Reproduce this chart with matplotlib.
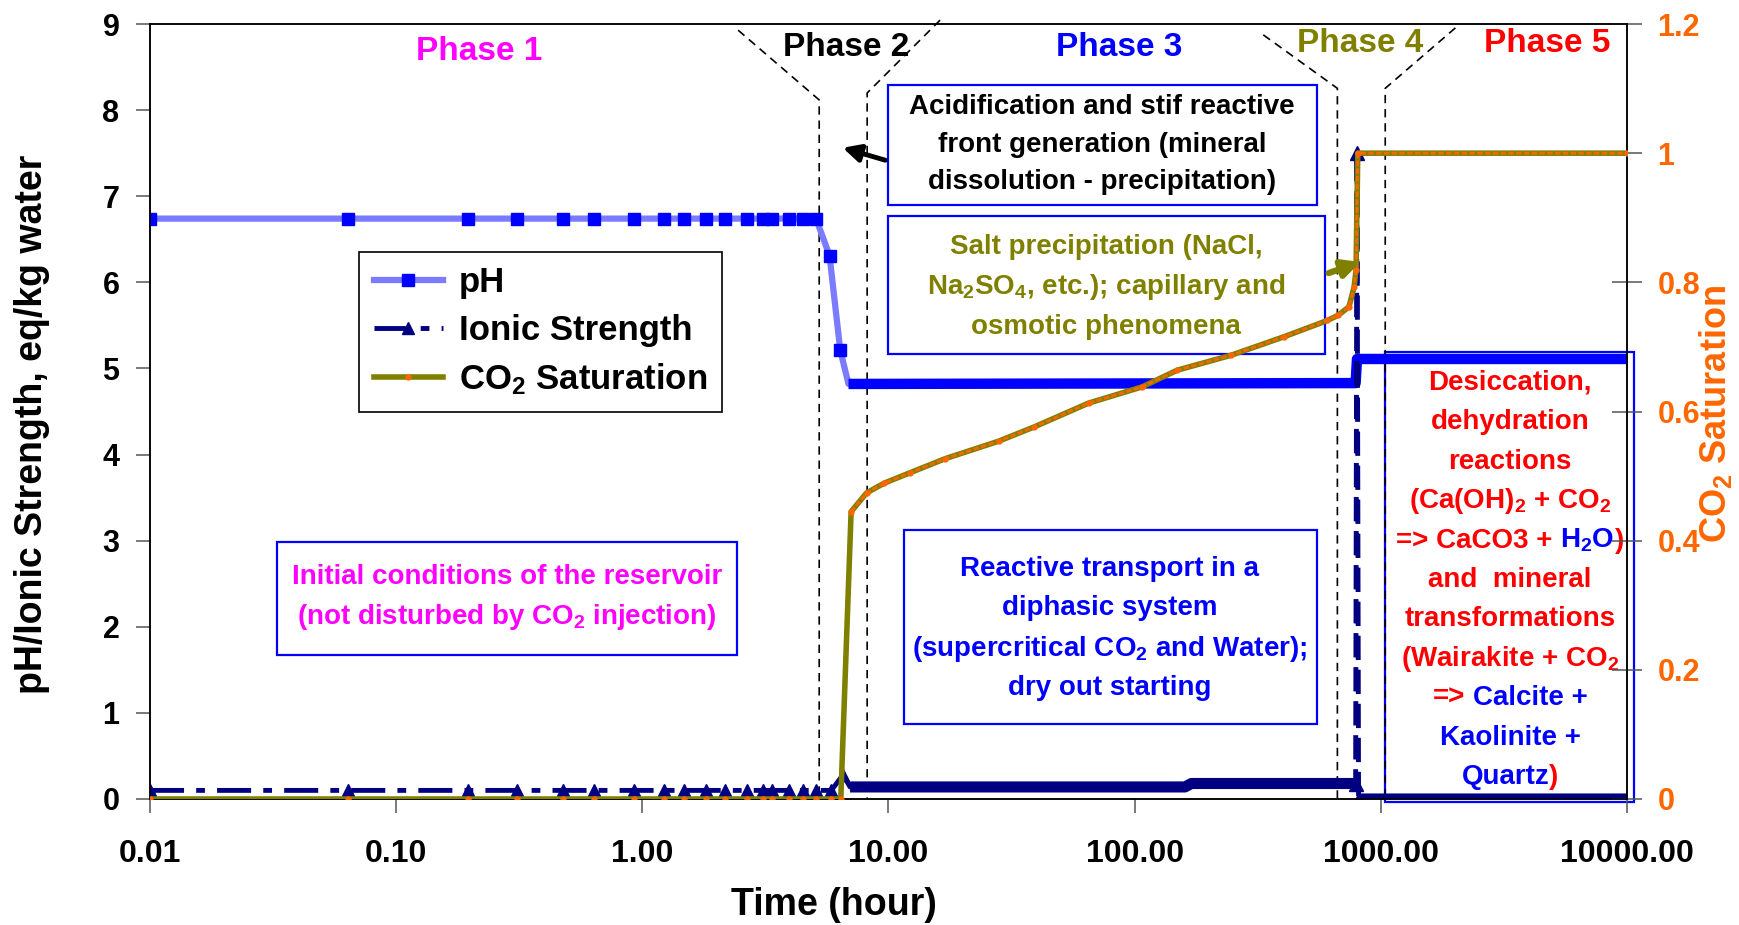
import numpy as np
import matplotlib
matplotlib.use("Agg")
import matplotlib.pyplot as plt
from matplotlib.patches import Rectangle
from matplotlib.ticker import NullLocator

plt.rcParams['font.family'] = ['Liberation Sans', 'DejaVu Sans']
plt.rcParams['font.weight'] = 'bold'
plt.rcParams['mathtext.default'] = 'regular'

# --- data (time in hours) ---
t_early = [0.01, 0.064, 0.196, 0.309, 0.475, 0.638, 0.929, 1.23, 1.47,
           1.82, 2.16, 2.65, 3.08, 3.37, 3.96, 4.48, 5.08]

ph_t = t_early + [5.76, 6.37, 6.88, 790, 800, 10000]
ph_v = [6.74] * len(t_early) + [6.31, 5.21, 4.82, 4.83, 5.11, 5.11]

ionic_t = t_early + [5.86, 6.53, 6.98, 160, 170, 790, 800, 812, 10000]
ionic_v = [0.1] * len(t_early) + [0.1, 0.28, 0.14, 0.14, 0.18, 0.18, 7.5, 0.0, 0.0]

co2_t = t_early + [5.86, 6.4, 7.05, 8.15, 9.6, 12.2, 17, 28, 39, 65, 107, 149,
                   246, 406, 607, 671, 742, 779, 793, 806, 10000]
co2_v = [0.0] * len(t_early) + [0.0, 0.0, 0.445, 0.474, 0.489, 0.505, 0.527, 0.554,
                                0.576, 0.613, 0.638, 0.664, 0.687, 0.716, 0.741,
                                0.749, 0.762, 0.793, 0.819, 1.0, 1.0]

xticks = [0.01, 0.1, 1, 10, 100, 1000, 10000]
xtick_labels = ["0.01", "0.10", "1.00", "10.00", "100.00", "1000.00", "10000.00"]
yticks_right = [0, 0.2, 0.4, 0.6, 0.8, 1.0, 1.2]
ytick_right_labels = ["0", "0.2", "0.4", "0.6", "0.8", "1", "1.2"]

PH_LIGHT = '#7b7bff'
BLUE = '#0000ff'
NAVY = '#000080'
OLIVE = '#808000'
ORANGE = '#ff6600'
MAGENTA = '#ff00ff'
RED = '#ff0000'

W, H = 1740, 925
AX_L, AX_R, AX_T, AX_B = 150, 1627, 24, 799


def px(X, Y):
    # pixel position -> axes fraction
    return (X - AX_L) / (AX_R - AX_L), (AX_B - Y) / (AX_B - AX_T)


fig = plt.figure(figsize=(W / 100, H / 100), dpi=100)
ax = fig.add_axes([AX_L / W, 1 - AX_B / H, (AX_R - AX_L) / W, (AX_B - AX_T) / H])
ax2 = ax.twinx()

ph_t, ph_v = np.array(ph_t), np.array(ph_v)
ionic_t, ionic_v = np.array(ionic_t), np.array(ionic_v)
co2_t, co2_v = np.array(co2_t), np.array(co2_v)

# pH
early = ph_t < 6.5
ln_ph, = ax.plot(ph_t, ph_v, color=PH_LIGHT, lw=4.5, marker='s', ms=8,
                 mfc=BLUE, mec=BLUE, markevery=list(np.where(early)[0]), zorder=3,
                 label='pH')
late = ph_t >= 6.8
ax.plot(ph_t[late], ph_v[late], color=BLUE, lw=7.5, solid_capstyle='butt', zorder=3)

# ionic strength
early_i = ionic_t < 6.6
ln_io, = ax.plot(ionic_t[early_i], ionic_v[early_i], color=NAVY, lw=3.5,
                 ls=(0, (7, 2.5, 1.8, 2.5)), marker='^', ms=9, zorder=4,
                 label='Ionic Strength')
late_i = ionic_t >= 6.5
ax.plot(ionic_t[late_i], ionic_v[late_i], color=NAVY, lw=3.5, ls=(0, (5, 2)), zorder=4)
band = np.where(ionic_v > 1, np.nan, ionic_v)
ax.plot(ionic_t[ionic_t >= 6.9], band[ionic_t >= 6.9], color=NAVY, lw=8,
        solid_capstyle='butt', zorder=4)
spike = (ionic_t >= 790) & (ionic_t <= 812)
ax.plot(ionic_t[spike], ionic_v[spike], color=NAVY, ls='none', marker='^', ms=10, zorder=4)

# CO2 saturation (right axis)
ln_co2, = ax2.plot(co2_t, co2_v, color=OLIVE, lw=4, marker='o', ms=3.5,
                   mfc=ORANGE, mec=ORANGE, zorder=3, label='CO$_2$ Saturation')
wet = co2_v > 0.3
ax2.plot(co2_t[wet], co2_v[wet], color=ORANGE, lw=2, ls=(0, (2, 0.8)), zorder=4)

# axes
ax.set_xscale('log')
ax.set_xlim(0.01, 10000)
ax.set_ylim(0, 9)
ax2.set_ylim(0, 1.2)
ax.set_xticks(xticks, xtick_labels)
ax.xaxis.set_minor_locator(NullLocator())
ax.set_yticks(range(10))
ax2.set_yticks(yticks_right, ytick_right_labels)
for a in (ax, ax2):
    for s in a.spines.values():
        s.set_linewidth(1.1)
ax.tick_params(axis='x', length=10, width=1.1, pad=19, labelsize=23, color='#555555')
ax.tick_params(axis='y', length=10, width=1.1, pad=12, labelsize=22, color='#555555')
ax2.tick_params(axis='y', direction='inout', length=22, width=1.1, pad=11,
                labelsize=22, labelcolor=ORANGE, color='#555555')

ax.set_xlabel('Time (hour)', fontsize=27, fontweight='bold')
ax.xaxis.set_label_coords(0.463, -0.113)
ax.set_ylabel('pH/Ionic Strength, eq/kg water', fontsize=27, fontweight='bold')
ax.yaxis.set_label_coords(-0.068, 0.483)
ax2.set_ylabel('CO$_2$ Saturation', fontsize=26, fontweight='bold', color=ORANGE)
ax2.yaxis.set_label_coords(1.0474, 0.497)

# phase boundaries (dashed)
xt = ax.get_xaxis_transform()
bounds = [([2.45, 5.23, 5.23], [0.992, 0.902, 0.0]),
          ([16.2, 8.19, 8.19], [1.005, 0.911, 0.0]),
          ([333, 666, 666], [0.986, 0.917, 0.0]),
          ([2009, 1042, 1042], [0.995, 0.917, 0.0])]
for bx, by in bounds:
    ax.plot(bx, by, transform=xt, color='black', lw=1.2, ls=(0, (5, 3.5)),
            clip_on=False, zorder=2.5)

# phase titles
for X, Y, s, c in [(479, 52, 'Phase 1', MAGENTA), (846, 47, 'Phase 2', 'black'),
                   (1119, 47, 'Phase 3', BLUE), (1360, 44, 'Phase 4', OLIVE),
                   (1547, 44, 'Phase 5', RED)]:
    ax.text(*px(X, Y), s, transform=ax.transAxes, ha='center', va='center',
            fontsize=24, fontweight='bold', color=c, zorder=5)

renderer = fig.canvas.get_renderer()
ax_w = ax.get_window_extent(renderer).width


def width_of(s, size):
    t = ax.text(0, 0, s, fontsize=size, fontweight='bold', transform=ax.transAxes)
    w = t.get_window_extent(renderer).width
    t.remove()
    return w


SIZE = 20
space_w = width_of('x x', SIZE) - width_of('xx', SIZE)


def color_line(X, Y, parts, size=SIZE):
    # parts: list of (text, color, space_before)
    widths = [width_of(s, size) for s, c, sp in parts]
    total = sum(widths) + sum(space_w for s, c, sp in parts if sp)
    x0, y = px(X, Y)
    x = x0 - total / ax_w / 2
    for (s, c, sp), w in zip(parts, widths):
        if sp:
            x += space_w / ax_w
        ax.text(x, y, s, color=c, fontsize=size, fontweight='bold',
                transform=ax.transAxes, ha='left', va='center', zorder=5)
        x += w / ax_w


def box(X0, Y0, X1, Y1):
    x0, y1 = px(X0, Y0)
    x1, y0 = px(X1, Y1)
    ax.add_patch(Rectangle((x0, y0), x1 - x0, y1 - y0, transform=ax.transAxes,
                           facecolor='white', edgecolor=BLUE, lw=1.6, zorder=1,
                           clip_on=False))


box(888, 85, 1317, 205)
for Y, s in zip([107, 145, 182], ['Acidification and stif reactive',
                                  'front generation (mineral',
                                  'dissolution - precipitation)']):
    color_line(1102, Y, [(s, 'black', False)])

box(888, 216, 1325, 354)
for Y, s in zip([247, 287, 327], ['Salt precipitation (NaCl,',
                                  'Na$_2$SO$_4$, etc.); capillary and',
                                  'osmotic phenomena']):
    color_line(1106, Y, [(s, OLIVE, False)])

box(277, 542, 737, 655)
for Y, s in zip([577, 617], ['Initial conditions of the reservoir',
                             '(not disturbed by CO$_2$ injection)']):
    color_line(507, Y, [(s, MAGENTA, False)])

box(904, 530, 1317, 724)
for Y, s in zip([569, 608, 649, 688], ['Reactive transport in a',
                                       'diphasic system',
                                       '(supercritical CO$_2$ and Water);',
                                       'dry out starting']):
    color_line(1110, Y, [(s, BLUE, False)])

box(1385, 352, 1634, 802)
p5_lines = [
    [('Desiccation,', RED, False)],
    [('dehydration', RED, False)],
    [('reactions', RED, False)],
    [('(Ca(OH)$_2$ + CO$_2$', RED, False)],
    [('=> CaCO3 +', RED, False), ('H$_2$O', BLUE, True), (')', RED, False)],
    [('and  mineral', RED, False)],
    [('transformations', RED, False)],
    [('(Wairakite + CO$_2$', RED, False)],
    [('=>', RED, False), ('Calcite +', BLUE, True)],
    [('Kaolinite +', BLUE, False)],
    [('Quartz', BLUE, False), (')', RED, False)],
]
for i, parts in enumerate(p5_lines):
    color_line(1510, 383 + i * 39.4, parts)

# arrows
ax.annotate('', xy=px(840, 147), xytext=px(888, 161), xycoords='axes fraction',
            arrowprops=dict(arrowstyle='-|>', color='black', lw=3.5, mutation_scale=26),
            zorder=5)
ax2.annotate('', xy=px(1363, 261), xytext=px(1326, 274), xycoords='axes fraction',
             arrowprops=dict(arrowstyle='-|>', color=OLIVE, lw=4.5, mutation_scale=26),
             zorder=5)

# legend
leg = ax2.legend(handles=[ln_ph, ln_io, ln_co2], loc='upper left',
                 bbox_to_anchor=(0.1415, 0.706), borderaxespad=0,
                 prop={'size': 25, 'weight': 'bold'}, handlelength=2.0,
                 handletextpad=0.45, labelspacing=0.42, borderpad=0.42,
                 fancybox=False, framealpha=1, edgecolor='black')
leg.get_frame().set_linewidth(1.2)

fig.savefig('out.png', dpi=100)
